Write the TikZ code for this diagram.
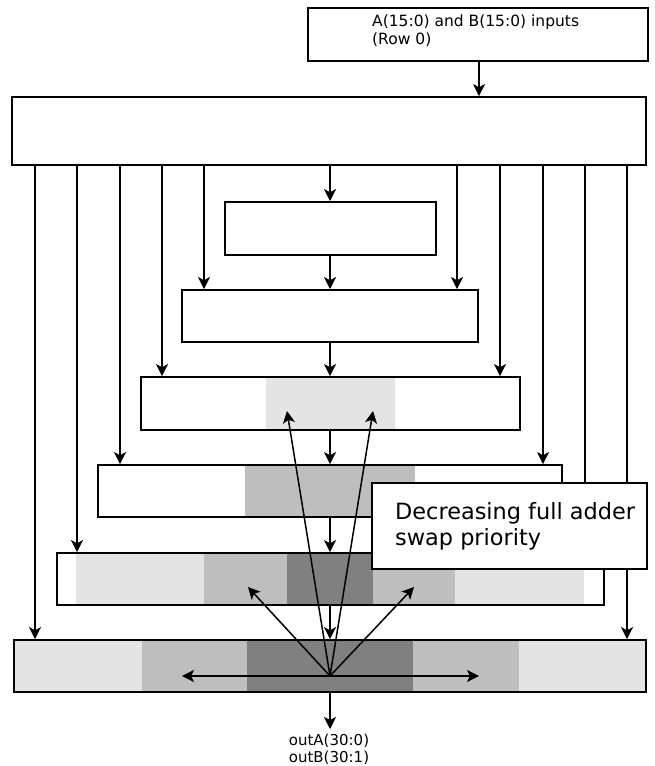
\documentclass[tikz,border=0pt]{standalone}
\usepackage{fontspec}
\setmainfont{DejaVu Sans}
\usetikzlibrary{arrows.meta}
\definecolor{shadeA}{gray}{0.895}
\definecolor{shadeB}{gray}{0.745}
\definecolor{shadeC}{gray}{0.50}
\begin{document}
\begin{tikzpicture}[x=1pt,y=-1pt,
  stagebox/.style={draw=black,line width=1.7pt,inner sep=0pt},
  tip/.tip={Stealth[length=12pt,width=12pt,inset=3pt]},
  arr/.style={line width=1.5pt,-tip},
  biarr/.style={line width=1.5pt,tip-tip},
  smalltxt/.style={font=\fontsize{15.5}{18}\selectfont,align=left,inner sep=0pt},
  outtxt/.style={font=\fontsize{15}{17}\selectfont,align=center,inner sep=0pt},
  bigtxt/.style={font=\fontsize{22.4}{26}\selectfont,align=left,inner sep=0pt}]
\useasboundingbox (0,0) rectangle (654,766);
\fill[white] (0,0) rectangle (654,766);

% grey priority bands inside the lower rows
\fill[shadeA] (266,377) rectangle (395,430);
\fill[shadeB] (245,465) rectangle (415,517);
\fill[shadeA] (76,553) rectangle (204,605);
\fill[shadeB] (204,553) rectangle (287,605);
\fill[shadeC] (287,553) rectangle (373,605);
\fill[shadeB] (373,553) rectangle (455,605);
\fill[shadeA] (455,553) rectangle (584,605);
\fill[shadeA] (14,640) rectangle (142,692);
\fill[shadeB] (142,640) rectangle (247,692);
\fill[shadeC] (247,640) rectangle (413,692);
\fill[shadeB] (413,640) rectangle (519,692);
\fill[shadeA] (519,640) rectangle (646,692);

% rows of the reduction tree
\node[stagebox,minimum width=340pt,minimum height=53pt] (inbox) at (478,34.5) {};
\node[smalltxt,anchor=north west] (intext) at (372,15) {A(15:0) and B(15:0) inputs\\(Row 0)};
\node[stagebox,minimum width=634pt,minimum height=68pt] (row0) at (329,131) {};
\node[stagebox,minimum width=211pt,minimum height=53pt] (row1) at (330.5,228.5) {};
\node[stagebox,minimum width=296pt,minimum height=52pt] (row2) at (330,316) {};
\node[stagebox,minimum width=379pt,minimum height=53pt] (row3) at (330.5,403.5) {};
\node[stagebox,minimum width=464pt,minimum height=52pt] (row4) at (330,491) {};
\node[stagebox,minimum width=547pt,minimum height=52pt] (row5) at (330.5,579) {};
\node[stagebox,minimum width=632pt,minimum height=52pt] (row6) at (330,666) {};

% column positions of the bypass lines
\coordinate (cA) at (35,0);
\coordinate (cB) at (77,0);
\coordinate (cC) at (120,0);
\coordinate (cD) at (162,0);
\coordinate (cE) at (204,0);
\coordinate (cM) at (330,0);
\coordinate (cF) at (457,0);
\coordinate (cG) at (500,0);
\coordinate (cH) at (543,0);
\coordinate (cI) at (585,0);
\coordinate (cJ) at (627,0);
\coordinate (cIn) at (479,0);

\draw[arr] (inbox.south -| cIn) -- (row0.north -| cIn);
\draw[arr] (row0.south -| cA) -- (row6.north -| cA);
\draw[arr] (row0.south -| cB) -- (row5.north -| cB);
\draw[arr] (row0.south -| cC) -- (row4.north -| cC);
\draw[arr] (row0.south -| cD) -- (row3.north -| cD);
\draw[arr] (row0.south -| cE) -- (row2.north -| cE);
\draw[arr] (row0.south -| cM) -- (row1.north -| cM);
\draw[arr] (row0.south -| cF) -- (row2.north -| cF);
\draw[arr] (row0.south -| cG) -- (row3.north -| cG);
\draw[arr] (row0.south -| cH) -- (row4.north -| cH);
\draw[arr] (row0.south -| cI) -- (row5.north -| cI);
\draw[arr] (row0.south -| cJ) -- (row6.north -| cJ);

\draw[arr] (row1.south -| cM) -- (row2.north -| cM);
\draw[arr] (row2.south -| cM) -- (row3.north -| cM);
\draw[arr] (row3.south -| cM) -- (row4.north -| cM);
\draw[arr] (row4.south -| cM) -- (row5.north -| cM);
\draw[arr] (row5.south -| cM) -- (row6.north -| cM);

% output
\coordinate (outend) at (330,729);
\draw[arr] (row6.south -| cM) -- (outend);
\node[outtxt,anchor=north] (outtext) at (329,734) {outA(30:0)\\outB(30:1)};

% priority fan from the centre of the last row
\coordinate (origin) at (330,676);
\coordinate (pL) at (182,676);
\coordinate (pR) at (479,676);
\coordinate (qL) at (248,587);
\coordinate (qR) at (414,587);
\coordinate (rL) at (287,411);
\coordinate (rR) at (373,411);
\draw[biarr] (pL) -- (pR);
\draw[arr] (origin) -- (qL);
\draw[arr] (origin) -- (qR);
\draw[arr] (origin) -- (rL);
\draw[arr] (origin) -- (rR);

% legend box on top
\node[stagebox,fill=white,minimum width=275pt,minimum height=86pt] (legend) at (509.5,526) {};
\node[bigtxt,anchor=north west] (legendtext) at (395,502) {Decreasing full adder\\swap priority};
\end{tikzpicture}
\end{document}
